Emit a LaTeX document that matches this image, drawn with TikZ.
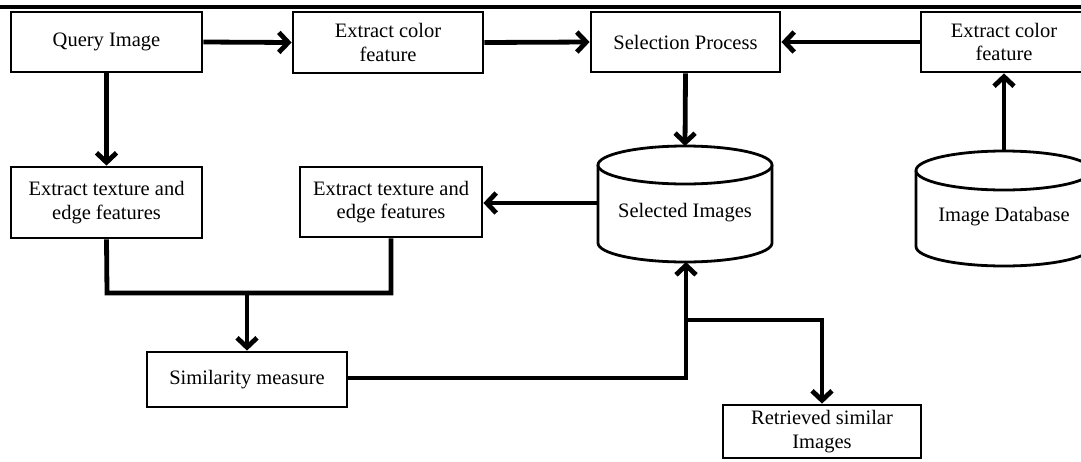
\documentclass[tikz,border=0pt]{standalone}
\usepackage{fontspec}
\setmainfont{Liberation Serif}
\usetikzlibrary{arrows.meta}
\tikzset{
  box/.style={draw, line width=2.8pt, rectangle, inner sep=0pt, align=center,
    font=\fontsize{20.5}{23.5}\selectfont},
  lbl/.style={inner sep=0pt, align=center, font=\fontsize{20.5}{23.5}\selectfont},
  conn/.style={line width=4.8pt, line join=miter},
  arr/.style={conn, -{Straight Barb[length=9.5pt,width=20pt]}},
  cyl/.style={line width=2.8pt, fill=white},
}
\begin{document}
\begin{tikzpicture}[x=1pt,y=-1pt]
\useasboundingbox (0,0) rectangle (1081,461);
\clip (0,0) rectangle (1081,461);
% top rule
\draw[line width=4pt] (0,6.5) -- (1081,6.5);
% boxes
\node[box, minimum width=191pt, minimum height=60pt] (qi) at (106.5,42) {Query Image};
\node[box, minimum width=190pt, minimum height=61pt] (ec1) at (388,42.5) {Extract color\\feature};
\node[box, minimum width=189pt, minimum height=60pt] (sp) at (685.5,42) {Selection Process};
\node[box, minimum width=166pt, minimum height=60pt] (ec2) at (1004,42) {Extract color\\feature};
\node[box, minimum width=191pt, minimum height=71pt] (tx1) at (106.5,202.5) {Extract texture and\\edge features};
\node[box, minimum width=182pt, minimum height=70pt] (tx2) at (391,202) {Extract texture and\\edge features};
\node[box, minimum width=200pt, minimum height=55pt] (sm) at (247,379.5) {Similarity measure};
\node[box, minimum width=198pt, minimum height=53pt] (rs) at (822,431.5) {Retrieved similar\\Images};
% cylinder: Selected Images
\draw[cyl] (598,165) -- (598,243) arc[start angle=180, end angle=0, x radius=87, y radius=19] -- (772,165);
\draw[cyl] (685,165) ellipse[x radius=87, y radius=19];
\node[lbl] (si) at (685,213) {Selected Images};
\coordinate (si-top) at (685,146);
\coordinate (si-bot) at (685,262);
\coordinate (si-west) at (598,203);
% cylinder: Image Database
\draw[cyl] (916,170.5) -- (916,246.5) arc[start angle=180, end angle=0, x radius=88, y radius=19.5] -- (1092,170.5);
\draw[cyl] (1004,170.5) ellipse[x radius=88, y radius=19.5];
\node[lbl] (db) at (1004,217) {Image Database};
\coordinate (db-top) at (1004,151);
% connectors
\draw[arr] (qi.east) -- (ec1.west);
\draw[arr] (ec1.east) -- (sp.west);
\draw[arr] (ec2.west) -- (sp.east);
\draw[arr] (sp.south) -- (si-top);
\draw[arr] (db-top) -- (ec2.south);
\draw[arr] (qi.south) -- (tx1.north);
\draw[arr] (si-west) -- (si-west -| tx2.east);
\coordinate (j1) at (107,293);
\coordinate (j2) at (391,293);
\coordinate (j3) at (247,293);
\draw[conn] (tx1.south) -- (j1) -- (j2) -- (tx2.south);
\draw[arr] (j3) -- (sm.north);
\coordinate (k1) at (686,378);
\coordinate (k2) at (686,320);
\coordinate (k3) at (822,320);
\draw[arr] (sm.east |- k1) -- (k1) -- (si-bot -| k1);
\draw[arr] (k2) -- (k3) -- (rs.north);
\end{tikzpicture}
\end{document}
